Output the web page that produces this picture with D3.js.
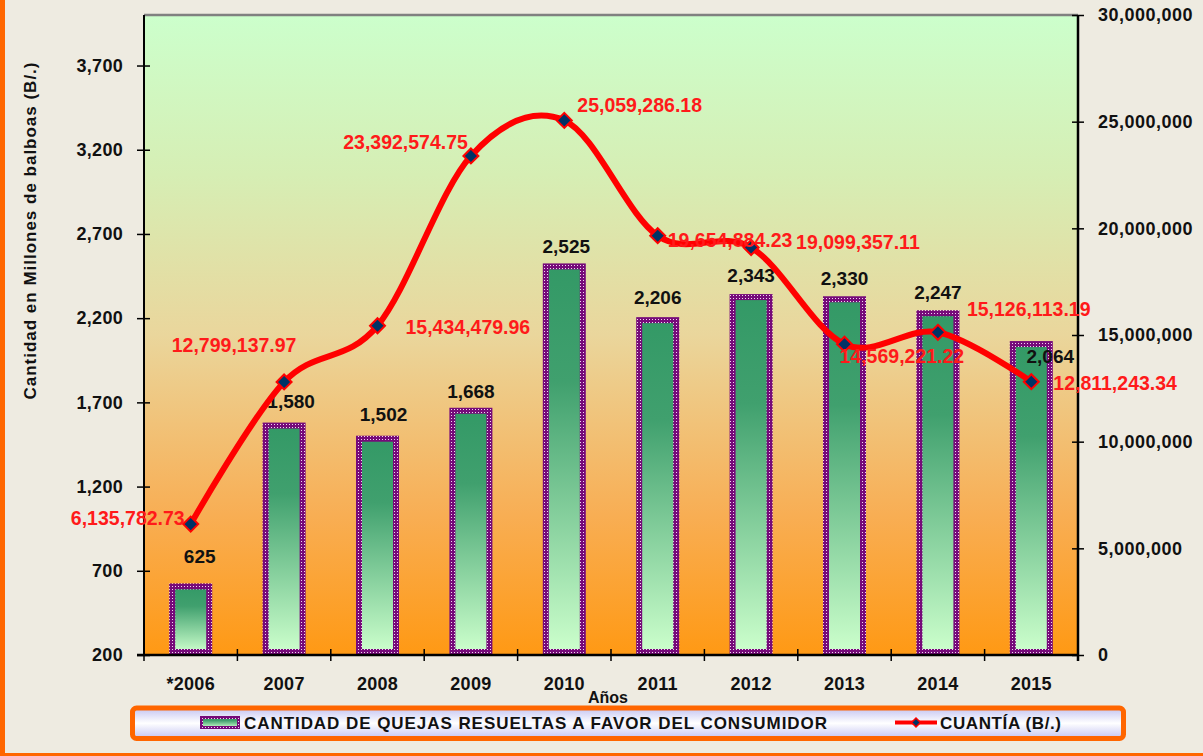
<!DOCTYPE html>
<html>
<head>
<meta charset="utf-8">
<script src="https://cdn.jsdelivr.net/npm/d3@7"></script>
<style>
  html, body { margin: 0; padding: 0; background: #EEEBE1; }
  svg { display: block; font-family: "Liberation Sans", Arial, sans-serif; font-weight: bold; }
</style>
</head>
<body>
<svg id="chart" width="1203" height="756"></svg>
<script>
// ---- data ----
const years = ["*2006", "2007", "2008", "2009", "2010", "2011", "2012", "2013", "2014", "2015"];
const quejas = [625, 1580, 1502, 1668, 2525, 2206, 2343, 2330, 2247, 2064];
const cuantia = [6135782.73, 12799137.97, 15434479.96, 23392574.75, 25059286.18,
                 19654884.23, 19099357.11, 14569221.22, 15126113.19, 12811243.34];
const leftTicks = [200, 700, 1200, 1700, 2200, 2700, 3200, 3700];
const rightTicks = [0, 5000000, 10000000, 15000000, 20000000, 25000000, 30000000];
const leftTitle = "Cantidad en Millones de balboas (B/.)";
const xTitle = "Años";
const legendBar = "CANTIDAD DE QUEJAS RESUELTAS A FAVOR DEL CONSUMIDOR";
const legendLine = "CUANTÍA (B/.)";

// ---- label placement (styling) ----
const barLabelOff = [[9,-27],[7,-21],[6,-22],[0,-17],[2,-17],[0,-20],[0,-19],[0,-18],[0,-18],[19,15]];
const lineLabelOff = [
  {dx:-6, dy:-6, a:"end"}, {dx:-50, dy:-37, a:"middle"}, {dx:28, dy:1, a:"start"},
  {dx:-3, dy:-14, a:"end"}, {dx:13, dy:-15, a:"start"}, {dx:10, dy:4, a:"start"},
  {dx:45, dy:-6, a:"start"}, {dx:-5, dy:12, a:"start"}, {dx:29, dy:-23, a:"start"},
  {dx:22, dy:1, a:"start"}
];

const svg = d3.select("#chart");
const L = 144, R = 1078, T = 15, B = 655;

const x = d3.scaleBand().domain(years).range([L, R]).padding(0);
const yL = d3.scaleLinear().domain([200, 4000]).range([B, T]);
const yR = d3.scaleLinear().domain([0, 30000000]).range([B, T]);

const defs = svg.append("defs");
const bg = defs.append("linearGradient").attr("id", "bg").attr("x1", 0).attr("y1", 0).attr("x2", 0).attr("y2", 1);
bg.append("stop").attr("offset", 0).attr("stop-color", "#CCFFCC");
bg.append("stop").attr("offset", 0.25).attr("stop-color", "#D6EEB4");
bg.append("stop").attr("offset", 0.5).attr("stop-color", "#EAD69C");
bg.append("stop").attr("offset", 0.78).attr("stop-color", "#F8AE54");
bg.append("stop").attr("offset", 1).attr("stop-color", "#FF9914");

const bg2 = defs.append("linearGradient").attr("id", "barg").attr("x1", 0).attr("y1", 0).attr("x2", 0).attr("y2", 1);
bg2.append("stop").attr("offset", 0).attr("stop-color", "#339966");
bg2.append("stop").attr("offset", 0.3).attr("stop-color", "#40A06E");
bg2.append("stop").attr("offset", 1).attr("stop-color", "#CCFFCC");

const lg = defs.append("linearGradient").attr("id", "legg").attr("x1", 0).attr("y1", 0).attr("x2", 0).attr("y2", 1);
lg.append("stop").attr("offset", 0).attr("stop-color", "#C4C4F2");
lg.append("stop").attr("offset", 0.5).attr("stop-color", "#FFFFFF");
lg.append("stop").attr("offset", 1).attr("stop-color", "#C4C4F2");

const pat = defs.append("pattern").attr("id", "dots").attr("patternUnits", "userSpaceOnUse")
  .attr("width", 3).attr("height", 3);
pat.append("rect").attr("width", 3).attr("height", 3).attr("fill", "#760A7A");
pat.append("rect").attr("x", 1).attr("y", 1).attr("width", 1).attr("height", 1).attr("fill", "#F0D8F0");

// outer orange frame
svg.append("rect").attr("x", 2.5).attr("y", -20).attr("width", 1240).attr("height", 775.5)
  .attr("fill", "none").attr("stroke", "#FF6600").attr("stroke-width", 5);

// plot background
svg.append("rect").attr("x", L).attr("y", T).attr("width", R - L).attr("height", B - T).attr("fill", "url(#bg)");
svg.append("line").attr("x1", L).attr("x2", R).attr("y1", T).attr("y2", T)
  .attr("stroke", "#808080").attr("stroke-width", 2.5);

// bars
const bw = 37;
svg.append("g").selectAll("rect").data(quejas).join("rect")
  .attr("x", (d, i) => x(years[i]) + x.bandwidth() / 2 - bw / 2)
  .attr("y", d => yL(d) + 3)
  .attr("width", bw)
  .attr("height", d => B - 3 - (yL(d) + 3))
  .attr("fill", "url(#barg)")
  .attr("stroke", "url(#dots)")
  .attr("stroke-width", 6);

const tickFont = sel => sel.attr("font-size", 18).attr("font-family", "Liberation Sans, Arial, sans-serif")
  .attr("font-weight", "bold").attr("fill", "#111");

// axes
const axL = svg.append("g").attr("transform", `translate(${L},0)`)
  .call(d3.axisLeft(yL).tickValues(leftTicks).tickFormat(d3.format(",")).tickSizeInner(7).tickSizeOuter(0).tickPadding(14));
axL.select(".domain").attr("stroke", "#000").attr("stroke-width", 2).attr("d", `M0,${T}V${B}`);
axL.selectAll(".tick line").attr("x1", 6).attr("x2", -7).attr("stroke", "#000").attr("stroke-width", 1.5);
axL.selectAll(".tick text").call(tickFont).attr("letter-spacing", 0.3);

const axR = svg.append("g").attr("transform", `translate(${R},0)`)
  .call(d3.axisRight(yR).tickValues(rightTicks).tickFormat(d3.format(",")).tickSizeInner(6).tickSizeOuter(0).tickPadding(14));
axR.select(".domain").attr("stroke", "#000").attr("stroke-width", 2.5).attr("d", `M0,${T}V${B + 6}`);
axR.selectAll(".tick line").attr("x1", -6).attr("x2", 6).attr("stroke", "#000").attr("stroke-width", 1.5);
axR.selectAll(".tick text").call(tickFont).attr("letter-spacing", 0.5);

const axB = svg.append("g").attr("transform", `translate(0,${B})`)
  .call(d3.axisBottom(x).tickSizeInner(0).tickSizeOuter(0).tickPadding(22));
axB.select(".domain").attr("stroke", "#000").attr("stroke-width", 2.5).attr("d", `M${L - 7},0H${R}`);
axB.selectAll(".tick text").call(tickFont).attr("letter-spacing", 0.3);
axB.append("g").selectAll("line").data(years.concat(["end"])).join("line")
  .attr("x1", (d, i) => i < years.length ? x(d) : R)
  .attr("x2", (d, i) => i < years.length ? x(d) : R)
  .attr("y1", -6).attr("y2", 6)
  .attr("stroke", "#000").attr("stroke-width", 1.5);

// axis titles
svg.append("text").attr("transform", "translate(36,231) rotate(-90)")
  .attr("text-anchor", "middle").attr("font-size", 17).attr("fill", "#111")
  .attr("textLength", 337).attr("lengthAdjust", "spacing").text(leftTitle);
svg.append("text").attr("x", 608).attr("y", 703).attr("text-anchor", "middle")
  .attr("font-size", 16).attr("fill", "#111").text(xTitle);

// bar value labels
svg.append("g").selectAll("text").data(quejas).join("text")
  .attr("x", (d, i) => x(years[i]) + x.bandwidth() / 2 + barLabelOff[i][0])
  .attr("y", (d, i) => yL(d) + barLabelOff[i][1])
  .attr("dy", "0.36em").attr("text-anchor", "middle").attr("font-size", 19).attr("fill", "#111")
  .text(d => d3.format(",")(d));

// line
const pts = cuantia.map((v, i) => [x(years[i]) + x.bandwidth() / 2, yR(v)]);
svg.append("path").attr("d", d3.line().curve(d3.curveCardinal.tension(0))(pts))
  .attr("fill", "none").attr("stroke", "#FF0000").attr("stroke-width", 6).attr("stroke-linejoin", "round");

const diamond = r => `M0,${-r}L${r},0L0,${r}L${-r},0Z`;
svg.append("g").selectAll("path").data(pts).join("path")
  .attr("transform", d => `translate(${d[0]},${d[1]})`)
  .attr("d", diamond(7.5))
  .attr("fill", "#003366").attr("stroke", "#FF0000").attr("stroke-width", 2);

// line value labels
svg.append("g").selectAll("text").data(cuantia).join("text")
  .attr("x", (d, i) => pts[i][0] + lineLabelOff[i].dx)
  .attr("y", (d, i) => pts[i][1] + lineLabelOff[i].dy)
  .attr("dy", "0.36em").attr("text-anchor", (d, i) => lineLabelOff[i].a)
  .attr("font-size", 19.5).attr("fill", "#FF1A1A")
  .text(d => d3.format(",.2f")(d));

// legend
const lgG = svg.append("g");
lgG.append("rect").attr("x", 132.5).attr("y", 708).attr("width", 991).attr("height", 30.5).attr("rx", 4)
  .attr("fill", "url(#legg)").attr("stroke", "#FF6600").attr("stroke-width", 5);
lgG.append("rect").attr("x", 201.5).attr("y", 717.5).attr("width", 37).attr("height", 10)
  .attr("fill", "url(#barg)").attr("stroke", "url(#dots)").attr("stroke-width", 3);
lgG.append("text").attr("x", 244).attr("y", 723).attr("dy", "0.36em").attr("font-size", 17)
  .attr("textLength", 583).attr("lengthAdjust", "spacing")
  .attr("fill", "#111").text(legendBar);
lgG.append("line").attr("x1", 895).attr("x2", 937).attr("y1", 722.5).attr("y2", 722.5)
  .attr("stroke", "#FF0000").attr("stroke-width", 4);
lgG.append("path").attr("transform", "translate(916,722.5)").attr("d", diamond(4.5))
  .attr("fill", "#003366").attr("stroke", "#FF0000").attr("stroke-width", 1.5);
lgG.append("text").attr("x", 940).attr("y", 723).attr("dy", "0.36em").attr("font-size", 17)
  .attr("textLength", 121).attr("lengthAdjust", "spacing")
  .attr("fill", "#111").text(legendLine);
</script>
</body>
</html>
